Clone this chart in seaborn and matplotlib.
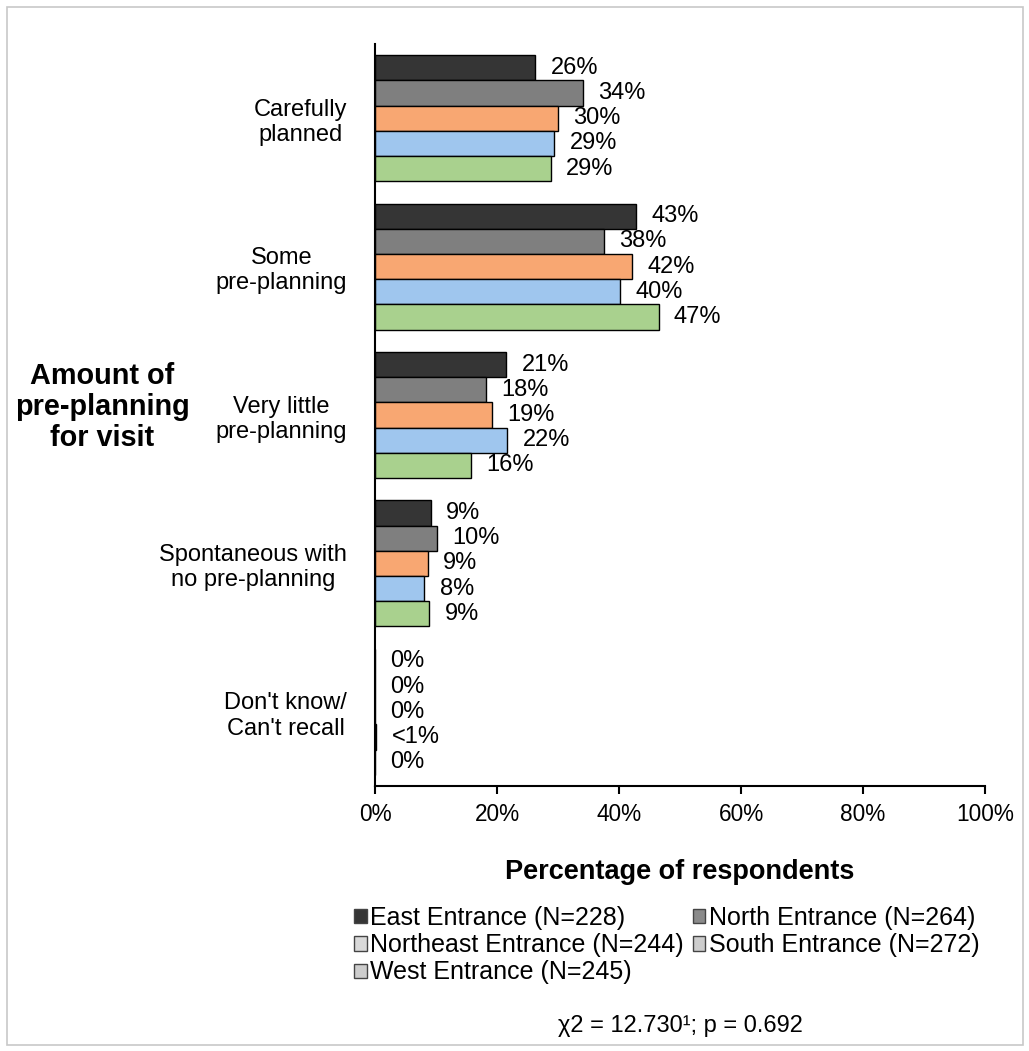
import pandas as pd
import matplotlib.pyplot as plt
import seaborn as sns
from matplotlib.patches import Patch, Rectangle

# categories and groups
categories = ["Carefully\nplanned", "Some\npre-planning", "Very little\npre-planning",
              "Spontaneous with\nno pre-planning", "Don't know/\nCan't recall"]
entrances = ["East Entrance (N=228)", "North Entrance (N=264)", "Northeast Entrance (N=244)",
             "South Entrance (N=272)", "West Entrance (N=245)"]

# percentages
east = [26.3, 42.8, 21.5, 9.1, 0.0]
north = [34.1, 37.5, 18.2, 10.2, 0.0]
northeast = [30.0, 42.2, 19.1, 8.7, 0.0]
south = [29.4, 40.2, 21.7, 8.1, 0.2]
west = [28.8, 46.5, 15.8, 8.9, 0.0]

east_lbl = ["26%", "43%", "21%", "9%", "0%"]
north_lbl = ["34%", "38%", "18%", "10%", "0%"]
northeast_lbl = ["30%", "42%", "19%", "9%", "0%"]
south_lbl = ["29%", "40%", "22%", "8%", "<1%"]
west_lbl = ["29%", "47%", "16%", "9%", "0%"]

bar_colors = ["#353535", "#7f7f7f", "#f8a772", "#9fc6ee", "#a9d18e"]
legend_colors = ["#353535", "#8a8a8a", "#d9d9d9", "#cdcdcd", "#cdcdcd"]

# build long table
series = [east, north, northeast, south, west]
rows = []
for ent, vals in zip(entrances, series):
    for cat, v in zip(categories, vals):
        rows.append({"category": cat, "entrance": ent, "pct": v})
df = pd.DataFrame(rows)

sns.set_style("white")
plt.rcParams['font.family'] = ['Liberation Sans', 'DejaVu Sans']
plt.rcParams.update({"text.color": "black", "axes.labelcolor": "black",
                     "xtick.color": "black", "ytick.color": "black"})

fig = plt.figure(figsize=(10.29, 10.51), dpi=100)
ax = fig.add_axes([375/1029, 1 - 786/1051, 610/1029, 742/1051])

sns.barplot(data=df, y="category", x="pct", hue="entrance", order=categories,
            hue_order=entrances, palette=bar_colors, orient="h", width=0.85,
            saturation=1, edgecolor="black", linewidth=1.0, ax=ax, legend=False)

# value labels
for cont, lbls in zip(ax.containers, [east_lbl, north_lbl, northeast_lbl, south_lbl, west_lbl]):
    ax.bar_label(cont, labels=lbls, padding=11, fontsize=17)

ax.set_xlim(0, 100)
ax.set_xticks([0, 20, 40, 60, 80, 100])
ax.set_xticklabels([f"{t}%" for t in [0, 20, 40, 60, 80, 100]])
ax.tick_params(axis="x", length=6, width=1.5, labelsize=16.3, pad=6, direction="out", bottom=True)
ax.tick_params(axis="y", length=0, labelsize=17, pad=20)
for lab in ax.get_yticklabels():
    lab.set_multialignment("center")

for s in ["top", "right"]:
    ax.spines[s].set_visible(False)
for s in ["left", "bottom"]:
    ax.spines[s].set_color("black")
    ax.spines[s].set_linewidth(1.5)

ax.set_ylabel("")
ax.set_xlabel("Percentage of respondents", fontsize=19.5, fontweight="bold", labelpad=24)

fig.text(102/1029, 1 - 407/1051, "Amount of\npre-planning\nfor visit", ha="center", va="center",
         fontsize=20.8, fontweight="bold", linespacing=1.12)

# legend (grey swatches as in the original)
handles = [Patch(facecolor=c, edgecolor="#444444", linewidth=1.0) for c in legend_colors]
order = [0, 2, 4, 1, 3]
fig.legend([handles[i] for i in order], [entrances[i] for i in order],
           loc="upper left", bbox_to_anchor=(354/1029, 1 - 906/1051), ncol=2, frameon=False,
           fontsize=18, handlelength=0.5, handleheight=0.5, handletextpad=0.15,
           columnspacing=0.35, labelspacing=0.13, borderaxespad=0, borderpad=0)

fig.text(680/1029, 1 - 1026/1051, "χ2 = 12.730¹; p = 0.692", ha="center", va="center", fontsize=17)

# light outer border
fig.patches.append(Rectangle((7/1029, 6/1051), 1016/1029, 1038/1051, transform=fig.transFigure,
                             fill=False, edgecolor="#c8c8c8", linewidth=1.2))

fig.savefig("out.png", dpi=100)
